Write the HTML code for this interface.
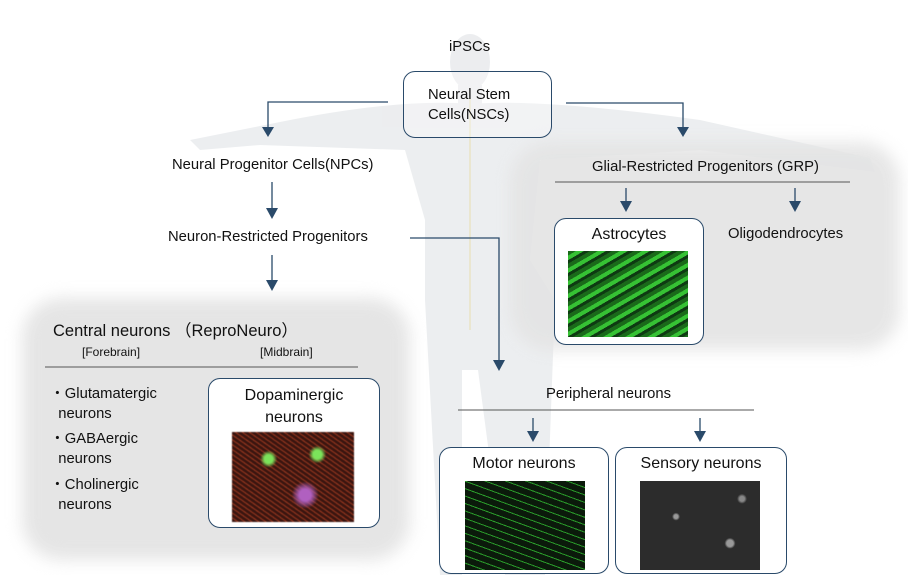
<!DOCTYPE html>
<html><head><meta charset="utf-8"><style>
body{margin:0;width:908px;height:575px;overflow:hidden;background:#fff;font-family:"Liberation Sans","Noto Sans CJK JP",sans-serif;color:#111;position:relative}
.a{position:absolute}
.t{position:absolute;white-space:nowrap;font-size:14.8px}
.box{position:absolute;border:1.3px solid #2a4a6a;border-radius:12px;background:#fff;box-sizing:border-box}
.panel{position:absolute;background:#e4e4e4;border-radius:40px;filter:blur(8px)}
</style></head><body>
<svg class="a" style="left:0;top:0" width="908" height="575">
<g fill="#c9ced4" opacity="0.35">
<ellipse cx="470" cy="62" rx="20" ry="28"/>
<rect x="458" y="85" width="24" height="25"/>
<path d="M280 122 Q400 98 470 104 Q540 98 700 120 L870 158 L875 172 L700 150 L540 160 L530 260 L555 300 L545 575 L505 575 L478 370 L462 370 L462 575 L440 575 L425 300 L425 220 L405 150 L260 145 L200 150 L190 140 Z"/>
</g>
<g stroke="#e8d9a0" stroke-width="1" fill="none" opacity="0.8"><line x1="470" y1="90" x2="470" y2="330"/></g>
</svg>
<div class="panel" style="left:22px;top:298px;width:388px;height:262px;opacity:0.95"></div>
<div class="panel" style="left:510px;top:142px;width:390px;height:208px;opacity:0.9"></div>
<svg class="a" style="left:0;top:0" width="908" height="575">
<g stroke="#2a4a6a" stroke-width="1.3" fill="none">
<polyline points="388,102 268,102 268,128"/>
<polyline points="566,103 683,103 683,128"/>
<line x1="272" y1="182" x2="272" y2="210"/>
<line x1="272" y1="255" x2="272" y2="282"/>
<polyline points="410,238 499,238 499,362"/>
<line x1="626" y1="188" x2="626" y2="203"/>
<line x1="795" y1="188" x2="795" y2="203"/>
<line x1="533" y1="418" x2="533" y2="433"/>
<line x1="700" y1="418" x2="700" y2="433"/>
</g>
<g fill="#2a4a6a">
<polygon points="262,127 274,127 268,137"/><polygon points="677,127 689,127 683,137"/>
<polygon points="266,208 278,208 272,219"/><polygon points="266,280 278,280 272,291"/>
<polygon points="493,360 505,360 499,371"/>
<polygon points="620,201 632,201 626,212"/><polygon points="789,201 801,201 795,212"/>
<polygon points="527,431 539,431 533,442"/><polygon points="694,431 706,431 700,442"/>
</g>
<g stroke="#555" stroke-width="1"><line x1="555" y1="182" x2="850" y2="182"/><line x1="45" y1="367" x2="358" y2="367"/><line x1="458" y1="410" x2="754" y2="410"/></g>
</svg>
<div class="t" style="left:449px;top:39px">iPSCs</div>
<div class="box" style="left:403px;top:71px;width:149px;height:67px;background:rgba(255,255,255,0.3)"></div>
<div class="t" style="left:428px;top:85px;line-height:20px">Neural Stem<br>Cells(NSCs)</div>
<div class="t" style="left:172px;top:157px">Neural Progenitor Cells(NPCs)</div>
<div class="t" style="left:168px;top:229px">Neuron-Restricted Progenitors</div>
<div class="t" style="left:592px;top:159px">Glial-Restricted Progenitors (GRP)</div>
<div class="t" style="left:728px;top:226px">Oligodendrocytes</div>
<div class="t" style="left:53px;top:317px;font-size:16.5px">Central neurons （ReproNeuro）</div>
<div class="t" style="left:82px;top:345px;font-size:12px">[Forebrain]</div>
<div class="t" style="left:260px;top:345px;font-size:12px">[Midbrain]</div>
<div class="t" style="left:50px;top:384px;line-height:20px">・Glutamatergic<br>&nbsp;&nbsp;neurons</div>
<div class="t" style="left:50px;top:429px;line-height:20px">・GABAergic<br>&nbsp;&nbsp;neurons</div>
<div class="t" style="left:50px;top:475px;line-height:20px">・Cholinergic<br>&nbsp;&nbsp;neurons</div>
<div class="box" style="left:208px;top:378px;width:172px;height:150px"></div>
<div class="t" style="left:208px;top:385px;width:172px;text-align:center;font-size:16px;line-height:22px;white-space:normal">Dopaminergic<br>neurons</div>
<div class="a" style="left:232px;top:432px;width:122px;height:90px;background:radial-gradient(circle at 30% 30%,#7be35a 0 4%,transparent 8%),radial-gradient(circle at 70% 25%,#7be35a 0 4%,transparent 8%),radial-gradient(circle at 60% 70%,#b060c0 0 6%,transparent 14%),repeating-linear-gradient(35deg,#3a1510 0 3px,#a03a20 3px 4px),#2a0f0c;filter:blur(0.4px)"></div>
<div class="box" style="left:554px;top:218px;width:150px;height:127px"></div>
<div class="t" style="left:554px;top:226px;width:150px;text-align:center;font-size:16px">Astrocytes</div>
<div class="a" style="left:568px;top:251px;width:120px;height:86px;background:repeating-linear-gradient(150deg,#1a6a1a 0 4px,#36c234 4px 8px,#0e3a12 8px 11px);"></div>
<div class="t" style="left:546px;top:386px">Peripheral neurons</div>
<div class="box" style="left:439px;top:447px;width:170px;height:127px"></div>
<div class="t" style="left:439px;top:455px;width:170px;text-align:center;font-size:16px">Motor neurons</div>
<div class="a" style="left:465px;top:481px;width:120px;height:89px;background:repeating-linear-gradient(20deg,#0b1a0b 0 6px,#2a9a2a 6px 7px),#0b1a0b"></div>
<div class="box" style="left:615px;top:447px;width:172px;height:127px"></div>
<div class="t" style="left:615px;top:455px;width:172px;text-align:center;font-size:16px">Sensory neurons</div>
<div class="a" style="left:640px;top:481px;width:120px;height:89px;background:radial-gradient(circle at 30% 40%,#999 0 2%,transparent 4%),radial-gradient(circle at 75% 70%,#999 0 3%,transparent 5%),radial-gradient(circle at 85% 20%,#888 0 2%,transparent 4%),#2c2c2c"></div>
</body></html>
